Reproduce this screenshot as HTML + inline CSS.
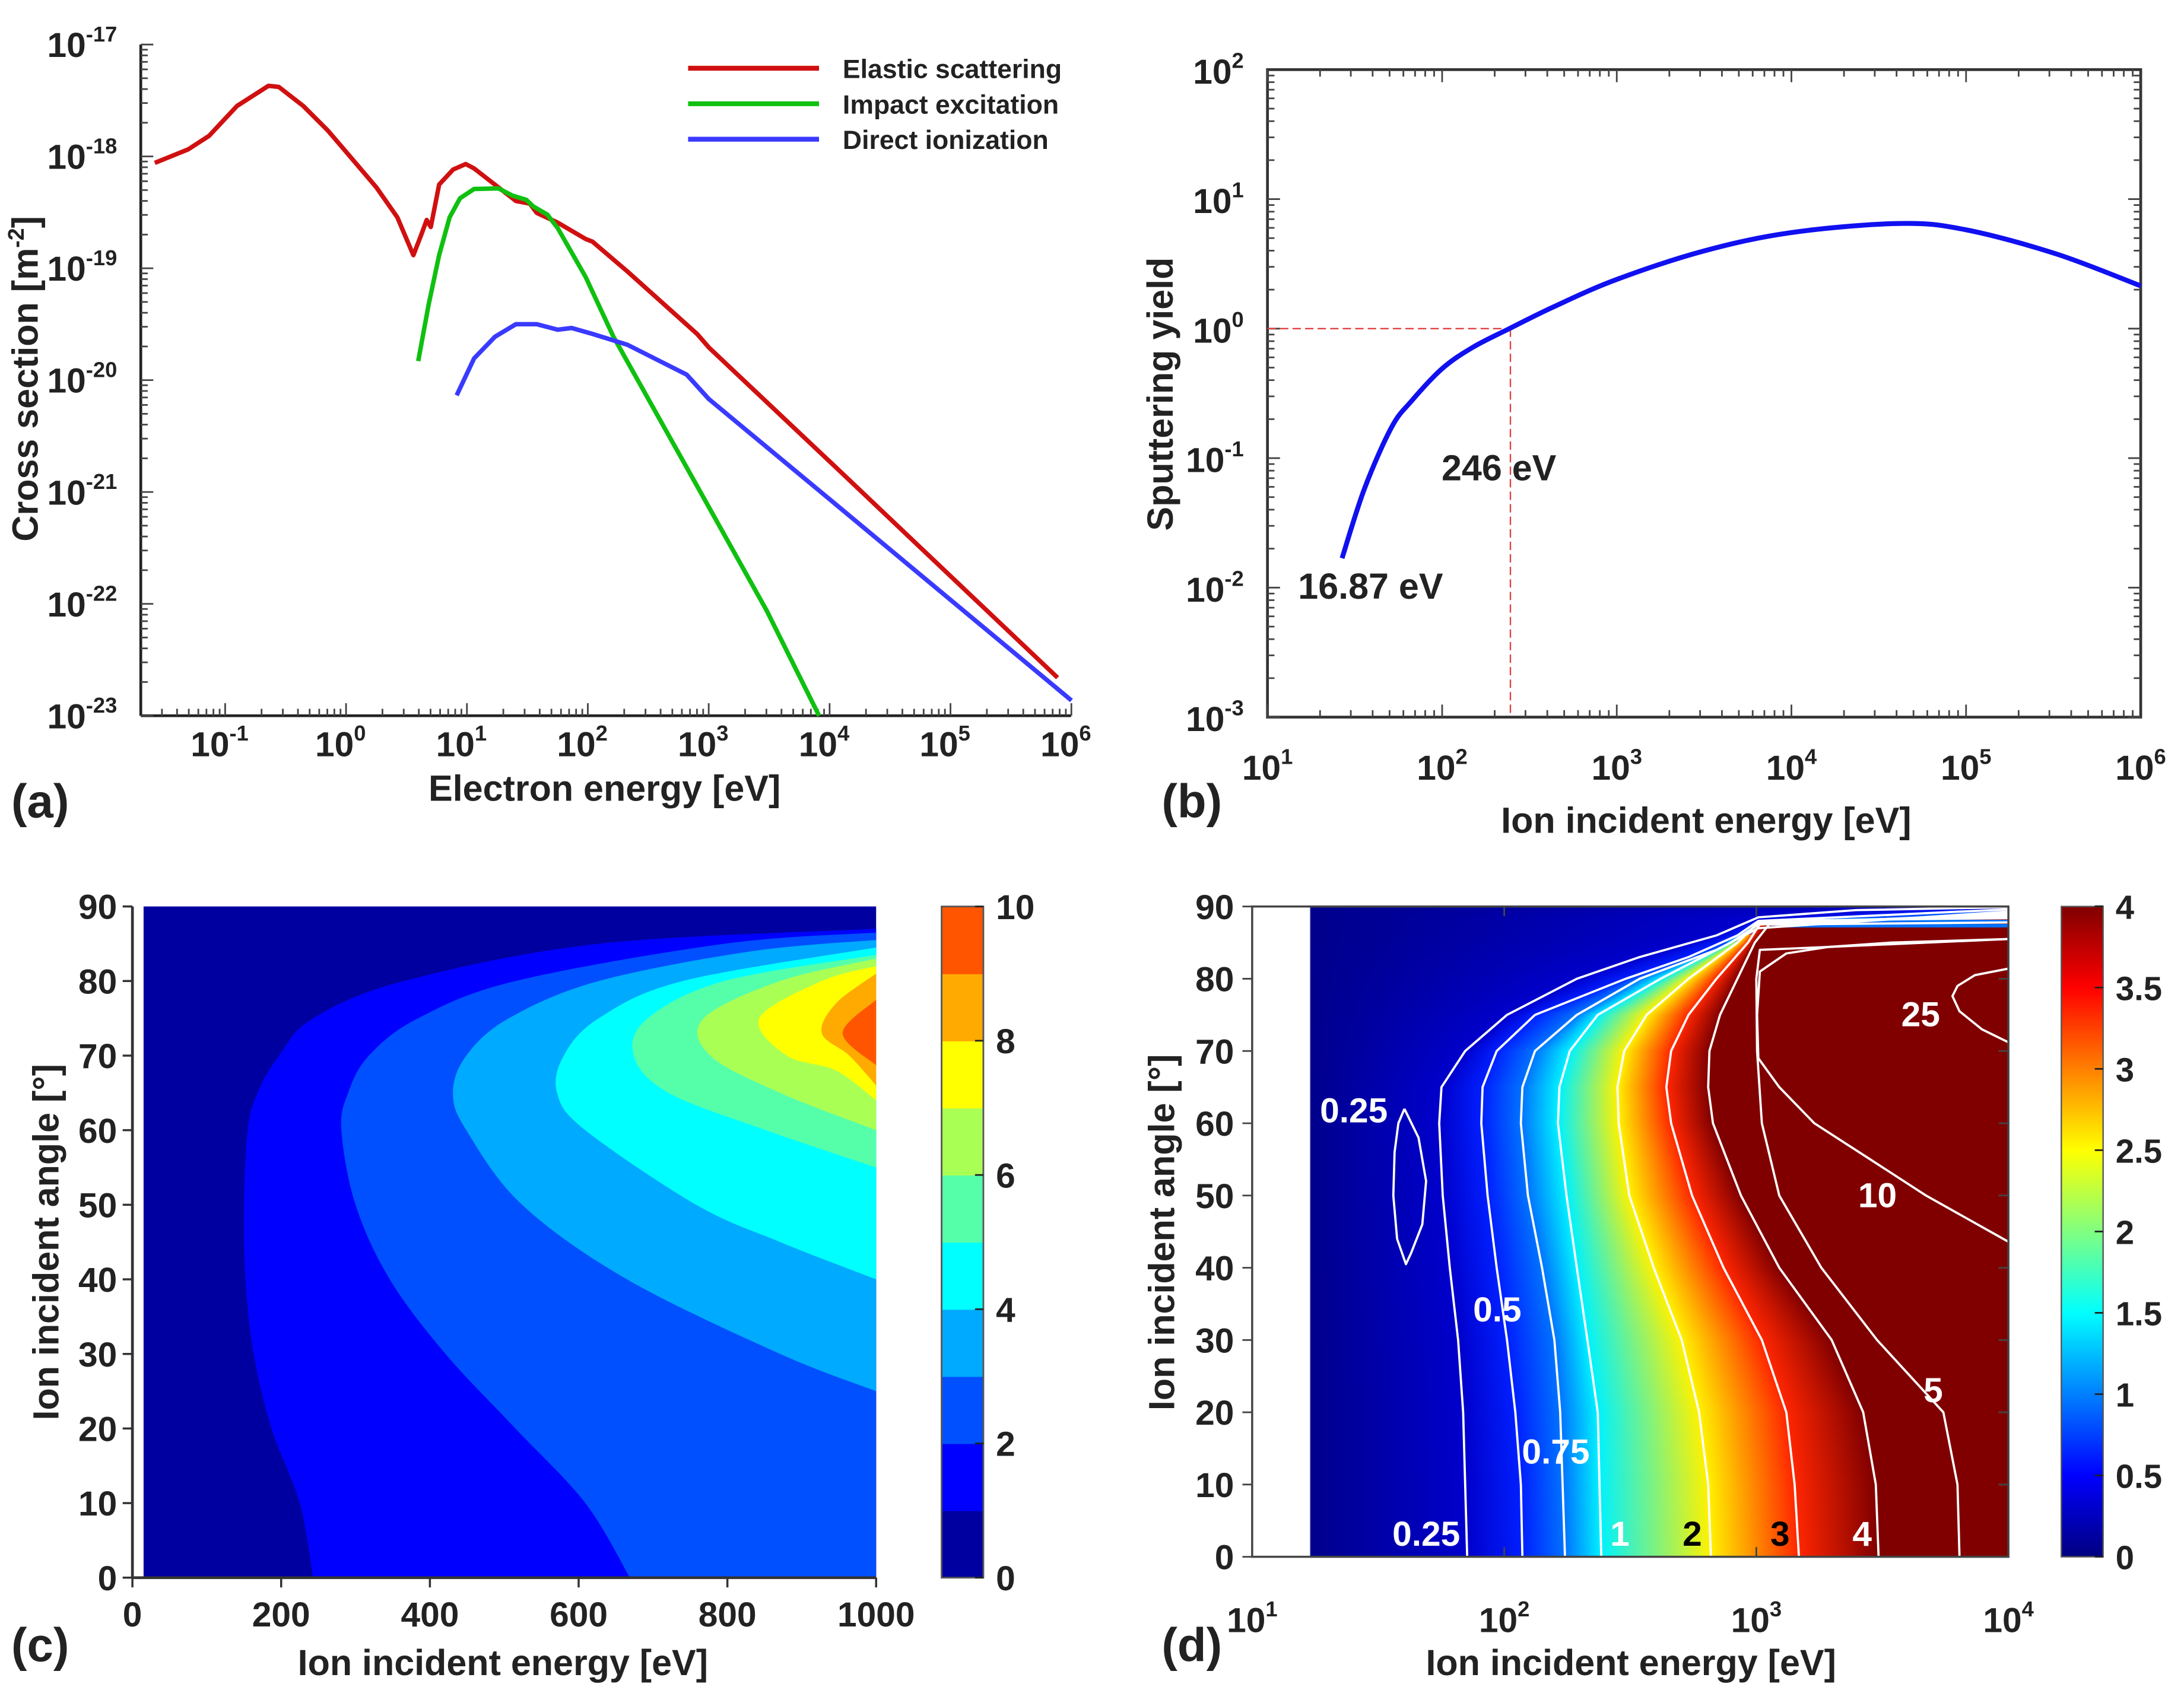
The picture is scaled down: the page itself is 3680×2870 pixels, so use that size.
<!DOCTYPE html>
<html><head><meta charset="utf-8"><style>
html,body{margin:0;padding:0;background:#fff;}
#wrap{position:relative;width:3680px;height:2870px;overflow:hidden;}
#heat,#fig{position:absolute;left:0;top:0;}
text{font-family:"Liberation Sans",Arial,sans-serif;font-weight:bold;fill:#222;}
</style></head><body>
<div id="wrap">
<canvas id="heat" width="3680" height="2870"></canvas>
<svg id="fig" xmlns="http://www.w3.org/2000/svg" width="3680" height="2870" viewBox="0 0 1568 1223"></svg>
</div>
<script>
// ---------------- DATA ----------------
// Panel (a): log10(energy eV), log10(cross-section m^-2)
const elasticLogE = [-1.582,-1.306,-1.133,-0.902,-0.642,-0.556,-0.354,-0.152,0.021,0.136,0.251,0.424,0.557,0.626,0.667,0.701,0.770,0.886,0.990,1.059,1.174,1.405,1.520,1.578,1.751,1.982,2.039,2.328,2.904,3.002,4.058,5.886];
const elasticLogS = [-18.058,-17.937,-17.816,-17.549,-17.369,-17.379,-17.549,-17.767,-17.985,-18.131,-18.277,-18.544,-18.883,-18.689,-18.568,-18.631,-18.252,-18.117,-18.068,-18.107,-18.204,-18.398,-18.422,-18.505,-18.592,-18.738,-18.762,-19.029,-19.587,-19.709,-20.786,-22.660];
const excitLogE = [0.597,0.684,0.770,0.857,0.943,1.059,1.261,1.376,1.491,1.549,1.664,1.751,1.982,2.212,2.904,3.481,3.913];
const excitLogS = [-19.830,-19.320,-18.883,-18.544,-18.374,-18.291,-18.286,-18.350,-18.388,-18.447,-18.519,-18.641,-19.078,-19.612,-20.947,-22.063,-23.000];
const ionizLogE = [0.915,1.059,1.232,1.405,1.578,1.751,1.866,2.039,2.328,2.818,3.002,4.058,6.001];
const ionizLogS = [-20.136,-19.806,-19.612,-19.500,-19.500,-19.549,-19.534,-19.587,-19.684,-19.951,-20.170,-21.117,-22.864];
const aXTicks = [-1,0,1,2,3,4,5,6];
const aYTicks = [-17,-18,-19,-20,-21,-22,-23];
const legendNames = ["Elastic scattering","Impact excitation","Direct ionization"];

// Panel (b): sputtering yield
const yieldLogE = [1.427,1.555,1.71,1.826,2.0,2.176,2.385,2.641,3.0,3.5,4.0,4.62,5.0,5.516,6.0];
const yieldLogY = [-1.773,-1.237,-0.763,-0.557,-0.309,-0.144,0,0.17,0.38,0.6,0.742,0.812,0.763,0.577,0.33];
const bXTicks = [1,2,3,4,5,6];
const bYTicks = [2,1,0,-1,-2,-3];
const thresholdE = 246;

// Panel (c): filled-contour level boundaries [angle deg, energy eV]
const cLevel1 = [[0,243],[10,225],[20,187],[30,163],[40,152],[50,150],[60,155],[65,168],[70,197],[75,243],[80,365],[85,627],[87,1000]];
const cLevel2 = [[0,669],[10,609],[20,515],[30,421],[40,346],[50,300],[60,281],[65,290],[70,318],[75,384],[80,515],[85,796],[86.5,1000]];
const cLevel3 = [[25,1000],[30,871],[40,665],[50,524],[60,449],[65,431],[70,449],[75,506],[80,627],[84,833],[85.5,1000]];
const cLevel4 = [[40,1000],[45,871],[50,758],[60,609],[65,571],[70,580],[75,627],[80,740],[84.5,1000]];
const cLevel5 = [[55,1000],[60,852],[65,721],[70,674],[75,693],[80,796],[83.5,1000]];
const cLevel6 = [[60,1000],[65,871],[70,777],[75,768],[80,871],[83,1000]];
const cLevel7 = [[64,1000],[68,946],[70,880],[75,843],[80,927],[82,1000]];
const cLevel8 = [[66,1000],[70,964],[73,927],[77,946],[81,1000]];
const cLevel9 = [[68.7,1000],[73,955],[77.5,1000]];
const cLevels = [cLevel1,cLevel2,cLevel3,cLevel4,cLevel5,cLevel6,cLevel7,cLevel8,cLevel9];
const cColors = ["#0000a0","#0000ff","#0050ff","#00aaff","#00ffff","#55ffaa","#aaff55","#ffff00","#ffaa00","#ff5500"];
const cXTicks = [0,200,400,600,800,1000];
const cYTicks = [0,10,20,30,40,50,60,70,80,90];
const cBarTicks = [0,2,4,6,8,10];

// Panel (d): contour lines [angle deg, log10 energy]
const dC025 = [[0,1.853],[10,1.845],[20,1.837],[30,1.817],[40,1.784],[50,1.756],[60,1.742],[65,1.751],[70,1.845],[75,2.011],[80,2.288],[83,2.537],[86,2.842],[88.5,3.008],[89.5,3.396],[89.9,4.0]];
const dC050 = [[0,2.072],[10,2.066],[20,2.044],[30,2.011],[40,1.970],[50,1.934],[60,1.909],[65,1.914],[70,1.970],[75,2.122],[80,2.482],[83,2.731],[86,2.925],[88,3.008],[89.6,4.0]];
const dC075 = [[0,2.241],[20,2.222],[30,2.199],[40,2.150],[50,2.094],[60,2.066],[65,2.072],[70,2.122],[75,2.288],[80,2.537],[84,2.842],[87,3.008],[89.3,4.0]];
const dC1 = [[0,2.385],[20,2.371],[30,2.330],[40,2.288],[50,2.247],[60,2.213],[65,2.219],[70,2.260],[75,2.371],[80,2.620],[85,2.898],[87.5,3.008],[89,4.0]];
const dC2 = [[0,2.820],[10,2.809],[20,2.773],[30,2.704],[40,2.593],[50,2.496],[60,2.454],[65,2.449],[70,2.476],[75,2.565],[80,2.731],[85,2.925],[87.8,3.008],[88.7,4.0]];
const dC3 = [[0,3.169],[10,3.152],[20,3.119],[30,3.022],[40,2.870],[50,2.745],[60,2.662],[65,2.643],[70,2.662],[75,2.731],[80,2.842],[85,2.967],[88,3.022],[88.4,4.0]];
const dC4 = [[0,3.485],[10,3.474],[20,3.424],[30,3.299],[40,3.091],[50,2.939],[60,2.828],[65,2.809],[70,2.814],[75,2.856],[80,2.925],[85,2.994],[87.5,3.050],[87.8,4.0]];
const dC5 = [[0,3.806],[10,3.798],[20,3.742],[30,3.479],[40,3.258],[50,3.091],[60,3.022],[70,3.003],[80,3.0],[84,3.014],[84.4,3.285],[85.5,4.0]];
const dC10 = [[43.6,4.0],[50,3.673],[55,3.452],[60,3.230],[65,3.091],[69,3.008],[75,3.003],[81,3.014],[83.5,3.119],[84.4,3.285],[85,3.535],[85.5,4.0]];
const dC25 = [[81.4,4.0],[80.5,3.867],[79,3.798],[77.6,3.778],[75.5,3.806],[73,3.895],[71.2,4.0]];
const dLoop = [[62,1.604],[58,1.66],[52,1.69],[46,1.675],[42,1.63],[40.5,1.61],[44,1.575],[50,1.56],[56,1.565],[60,1.58],[62,1.604]];
const dFillLevels = [0.25,0.5,0.75,1,2,3,4];
const dColorValues = [0.3,0.62,0.95,1.45,2.55,3.35,4];
const dFillLines = [dC025,dC050,dC075,dC1,dC2,dC3,dC4];
const dStartLogE = 1.23;
const dStartValue = 0.05;
const dXTicks = [1,2,3,4];
const dYTicks = [0,10,20,30,40,50,60,70,80,90];
const dBarTicks = ["0","0.5","1","1.5","2","2.5","3","3.5","4"];

// ---------------- HELPERS ----------------
const NS="http://www.w3.org/2000/svg";
const svg=document.getElementById('fig');
function mk(tag,attrs,parent){const e=document.createElementNS(NS,tag);for(const k in attrs)e.setAttribute(k,attrs[k]);(parent||svg).appendChild(e);return e;}
function grp(name){const g=mk('g',{});return g;}
function txt(g,x,y,s,size,anchor,name,rot){const t=mk('text',{x:x,y:y,'font-size':size,'text-anchor':anchor||'start'},g);t.textContent=s;if(rot)t.setAttribute('transform','rotate(-90 '+x+' '+y+')');


return t;}
function logLabel(g,x,y,exp,size,anchor,name){const t=mk('text',{x:x,y:y,'font-size':size,'text-anchor':anchor},g);t.appendChild(document.createTextNode('10'));const s=mk('tspan',{dy:-size*0.45,'font-size':size*0.62},t);s.textContent=String(exp);


return t;}
function line(g,x1,y1,x2,y2,st,w,name){const l=mk('line',{x1:x1,y1:y1,x2:x2,y2:y2,stroke:st,'stroke-width':w},g);


return l;}
function smooth(p){let d='M'+p[0][0]+','+p[0][1];for(let i=0;i<p.length-1;i++){const p0=p[Math.max(0,i-1)],p1=p[i],p2=p[i+1],p3=p[Math.min(p.length-1,i+2)];
const c1=[p1[0]+(p2[0]-p0[0])/6,p1[1]+(p2[1]-p0[1])/6],c2=[p2[0]-(p3[0]-p1[0])/6,p2[1]-(p3[1]-p1[1])/6];d+=' C'+c1[0]+','+c1[1]+' '+c2[0]+','+c2[1]+' '+p2[0]+','+p2[1];}return d;}
function interp(arr,th){for(let i=0;i<arr.length-1;i++){const a=arr[i],b=arr[i+1];if(th>=a[0]&&th<=b[0]){const t=(b[0]===a[0])?0:(th-a[0])/(b[0]-a[0]);return a[1]+t*(b[1]-a[1]);}}return null;}
function jet(v){const t=Math.max(0,Math.min(1,v/4));const c=x=>Math.round(255*Math.max(0,Math.min(1,x)));return 'rgb('+c(1.5-Math.abs(4*t-3))+','+c(1.5-Math.abs(4*t-2))+','+c(1.5-Math.abs(4*t-1))+')';}

// ---------------- PANEL A ----------------
(function(){
const g=grp('panel-a');
const xa=l=>101+(l+1.698)*86.8, ya=l=>32+(-17-l)*80.33;
line(g,101,32,101,514,'#222',2,'a-y-axis');line(g,101,514,769,514,'#222',2,'a-x-axis');
for(let d=-2;d<=6;d++)for(let m=1;m<10;m++){const l=d+Math.log10(m);if(l<-1.698||l>6.001)continue;const x=xa(l);
line(g,x,514,x,514-(m===1?9:5),'#444',1.2,m===1?'a-x-major-tick':'a-x-minor-tick');}
for(let d=-23;d<-17;d++)for(let m=1;m<10;m++){const y=ya(d+Math.log10(m));line(g,101,y,101+(m===1?9:5),y,'#444',1.2,m===1?'a-y-major-tick':'a-y-minor-tick');}
line(g,101,32,110,32,'#444',1.2,'a-y-major-tick');
aXTicks.forEach(e=>logLabel(g,xa(e)-4,543,e,25,'middle','a-x-tick-label'));
aYTicks.forEach(e=>logLabel(g,84,ya(e)+9,e,25,'end','a-y-tick-label'));
const series=[[elasticLogE,elasticLogS,'#d01010','elastic-scattering-line'],[excitLogE,excitLogS,'#10c010','impact-excitation-line'],[ionizLogE,ionizLogS,'#3a3aff','direct-ionization-line']];
series.forEach(s=>{const p=mk('polyline',{points:s[0].map((v,i)=>xa(v)+','+ya(s[1][i])).join(' '),fill:'none',stroke:s[2],'stroke-width':3.2,'stroke-linejoin':'round'},g);

});
legendNames.forEach((n,i)=>{const y=49+i*25.5;line(g,494,y,588,y,series[i][2],3.5,'legend-swatch');txt(g,605,y+7,n,19,'start','legend-entry');});
const t=txt(g,27,272,'Cross section [m',26,'middle','a-y-axis-title',true);const sp=mk('tspan',{dy:-10,'font-size':16},t);sp.textContent='-2';const sp2=mk('tspan',{dy:10},t);sp2.textContent=']';
txt(g,434,575,'Electron energy [eV]',26,'middle','a-x-axis-title');
txt(g,8,587,'(a)',34,'start','panel-a-label');
})();

// ---------------- PANEL B ----------------
(function(){
const g=grp('panel-b');
const xb=l=>910+(l-1)*125.4, yb=l=>50+(2-l)*93;
const r=mk('rect',{x:910,y:50,width:627,height:465,fill:'none',stroke:'#333','stroke-width':2},g);


for(let d=1;d<6;d++)for(let m=1;m<10;m++){const x=xb(d+Math.log10(m));const L=m===1?9:5;line(g,x,515,x,515-L,'#444',1.2,'b-x-tick');line(g,x,50,x,50+L,'#444',1.2,'b-x-tick-top');}
for(let d=-3;d<2;d++)for(let m=1;m<10;m++){const y=yb(d+Math.log10(m));const L=m===1?9:5;line(g,910,y,910+L,y,'#444',1.2,'b-y-tick');line(g,1537,y,1537-L,y,'#444',1.2,'b-y-tick-right');}
bXTicks.forEach(e=>logLabel(g,xb(e),560,e,25,'middle','b-x-tick-label'));
bYTicks.forEach(e=>logLabel(g,893,yb(e)+10,e,25,'end','b-y-tick-label'));
const tx=xb(Math.log10(thresholdE)),ty=yb(0);
const d1=line(g,910,ty,tx,ty,'#e04040',1,'threshold-h-dashed');d1.setAttribute('stroke-dasharray','6,3');
const d2=line(g,tx,ty,tx,515,'#e04040',1,'threshold-v-dashed');d2.setAttribute('stroke-dasharray','6,3');
const p=mk('path',{d:smooth(yieldLogE.map((v,i)=>[xb(v),yb(yieldLogY[i])])),fill:'none',stroke:'#1010f0','stroke-width':3.5,'stroke-linejoin':'round'},g);


txt(g,1035,345,'246 eV',26,'start','threshold-246ev-label');
txt(g,932,430,'16.87 eV',26,'start','threshold-1687ev-label');
txt(g,842,283,'Sputtering yield',26,'middle','b-y-axis-title',true);
txt(g,1225,598,'Ion incident energy [eV]',26,'middle','b-x-axis-title');
txt(g,834,587,'(b)',34,'start','panel-b-label');
})();

// ---------------- PANEL C ----------------
(function(){
const g=grp('panel-c');
const xc=E=>95+E*0.534, yc=t=>1133-t*5.356;
const bg=mk('rect',{x:xc(15),y:yc(90),width:xc(1000)-xc(15),height:yc(0)-yc(90),fill:cColors[0]},g);


cLevels.forEach((lv,i)=>{const pts=lv.map(p=>[xc(Math.max(15,p[1])),yc(p[0])]);let d=smooth(pts);if(lv[0][1]<1000)d+=' L'+xc(1000)+','+yc(lv[0][0]);d+=' Z';
const pg=mk('path',{d:d,fill:cColors[i+1]},g);

});
line(g,95,651,95,1133,'#333',2,'c-y-axis');line(g,95,1133,629,1133,'#333',2,'c-x-axis');
cXTicks.forEach(v=>{line(g,xc(v),1133,xc(v),1140,'#333',1.5,'c-x-tick');txt(g,xc(v),1168,String(v),25,'middle','c-x-tick-label');});
cYTicks.forEach(v=>{line(g,88,yc(v),95,yc(v),'#333',1.5,'c-y-tick');txt(g,84,yc(v)+9,String(v),25,'end','c-y-tick-label');});
const by=v=>1133-v*48.2;
cColors.forEach((c,i)=>{const r=mk('rect',{x:676,y:by(i+1),width:30,height:48.6,fill:c},g);

});
const fr=mk('rect',{x:676,y:651,width:30,height:482,fill:'none',stroke:'#555','stroke-width':1.2},g);


cBarTicks.forEach(v=>{line(g,700,by(v),706,by(v),'#222',1.2,'c-colorbar-tick');txt(g,715,by(v)+9,String(v),25,'start','c-colorbar-label');});
txt(g,42,892,'Ion incident angle [°]',26,'middle','c-y-axis-title',true);
txt(g,361,1203,'Ion incident energy [eV]',26,'middle','c-x-axis-title');
txt(g,8,1193,'(c)',34,'start','panel-c-label');
})();

// ---------------- PANEL D ----------------
const xd=l=>899+(l-1)*181, yd=t=>1118-t*5.189;
(function(){
const cv=document.getElementById('heat');const ctx=cv.getContext('2d');
const SX=3680/1568, SY=2870/1223;
const x0=xd(dStartLogE)*SX,x1=xd(4)*SX;
const py0=Math.round(651*SY),py1=Math.round(1118*SY);
for(let py=py0;py<py1;py++){
 const th=(1118-(py+0.5)/SY)/5.189;
 const anchors=[[dStartLogE,dStartValue]];
 dFillLines.forEach((ln,i)=>{const l=interp(ln,th);if(l!==null)anchors.push([l,dColorValues[i]]);});
 anchors.sort((a,b)=>a[0]-b[0]);
 const gr=ctx.createLinearGradient(x0,0,x1,0);
 anchors.forEach(a=>gr.addColorStop(Math.max(0,Math.min(1,(xd(a[0])*SX-x0)/(x1-x0))),jet(a[1])));
 const last=anchors[anchors.length-1];gr.addColorStop(1,jet(last[1]));
 ctx.fillStyle=gr;ctx.fillRect(x0,py,x1-x0,1);
}
const g=grp('panel-d');
[[dC025,'contour-0.25'],[dC050,'contour-0.5'],[dC075,'contour-0.75'],[dC1,'contour-1'],[dC2,'contour-2'],[dC3,'contour-3'],[dC4,'contour-4'],[dC5,'contour-5'],[dC10,'contour-10'],[dC25,'contour-25'],[dLoop,'contour-0.25-loop']].forEach(c=>{
 const p=mk('polyline',{points:c[0].map(q=>xd(q[1])+','+yd(q[0])).join(' '),fill:'none',stroke:'#fff','stroke-width':1.6,'stroke-linejoin':'round'},g);
 
 });
const fr=mk('rect',{x:899,y:651,width:543,height:467,fill:'none',stroke:'#444','stroke-width':1.5},g);


dXTicks.forEach(e=>{line(g,xd(e),1118,xd(e),1111,'#444',1.2,'d-x-tick');line(g,xd(e),651,xd(e),658,'#444',1.2,'d-x-tick-top');logLabel(g,xd(e),1172,e,25,'middle','d-x-tick-label');});
dYTicks.forEach(v=>{line(g,892,yd(v),899,yd(v),'#444',1.2,'d-y-tick');line(g,1442,yd(v),1435,yd(v),'#444',1.2,'d-y-tick-right');txt(g,886,yd(v)+9,String(v),25,'end','d-y-tick-label');});
const lab=[['0.25',972,806,'#fff'],['0.25',1024,1110,'#fff'],['0.5',1075,949,'#fff'],['0.75',1117,1051,'#fff'],['1',1163,1110,'#fff'],['2',1215,1110,'#000'],['3',1278,1110,'#000'],['4',1337,1110,'#fff'],['5',1388,1007,'#fff'],['10',1348,867,'#fff'],['25',1379,737,'#fff']];
lab.forEach(l=>{const t=txt(g,l[1],l[2],l[0],25,'middle','contour-label-'+l[0]);t.setAttribute('style','fill:'+l[3]);});
const defs=mk('defs',{},g);const lg=mk('linearGradient',{id:'jetbar',x1:0,y1:1,x2:0,y2:0},defs);
for(let i=0;i<=16;i++){mk('stop',{offset:i/16,'stop-color':jet(i/4)},lg);}
const cb=mk('rect',{x:1480,y:651,width:30,height:467,fill:'url(#jetbar)',stroke:'#555','stroke-width':1},g);


dBarTicks.forEach((s,i)=>{const y=1118-i*58.4;line(g,1504,y,1510,y,'#222',1.2,'d-colorbar-tick');txt(g,1519,y+9,s,24,'start','d-colorbar-label');});
txt(g,843,885,'Ion incident angle [°]',26,'middle','d-y-axis-title',true);
txt(g,1171,1203,'Ion incident energy [eV]',26,'middle','d-x-axis-title');
txt(g,834,1193,'(d)',34,'start','panel-d-label');
})();
</script>
</body></html>
